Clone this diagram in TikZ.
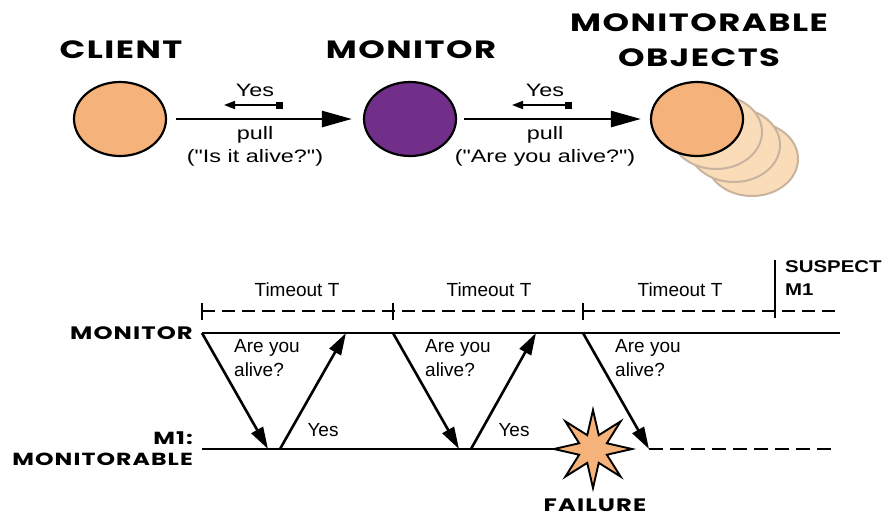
\documentclass[tikz,border=0pt]{standalone}
\usepackage{fontspec}
\setmainfont{Liberation Sans}
\newfontfamily\widesans{Liberation Sans}[FakeStretch=1.3]
\newfontfamily\boldwide{Liberation Sans}[FakeStretch=1.2]
\newfontfamily\headfont{Poppins}[FakeStretch=1.35, LetterSpace=6]
\usetikzlibrary{shapes.geometric,arrows.meta}

\definecolor{peach}{HTML}{F5B27A}
\definecolor{palepeach}{HTML}{FADCB9}
\definecolor{paleedge}{HTML}{C8B49E}
\definecolor{grape}{HTML}{712F89}

\begin{document}
\begin{tikzpicture}[x=1pt,y=-1pt,
  heading/.style={font=\headfont\bfseries\fontsize{25}{35}\selectfont, align=center, inner sep=0pt},
  lanelabel/.style={font=\headfont\bfseries\fontsize{18}{21}\selectfont, align=right, inner sep=0pt, anchor=east},
  party/.style={ellipse, draw, line width=2.2pt, minimum width=92pt, minimum height=74pt, inner sep=0pt},
  ghost/.style={party, fill=palepeach, draw=paleedge, line width=2pt},
  toptext/.style={font=\widesans\fontsize{18}{23}\selectfont, align=center, inner sep=0pt},
  msgtext/.style={font=\fontsize{19}{24}\selectfont, align=left, inner sep=0pt},
  bigarrow/.style={line width=2.6pt, -{Triangle[length=30pt,width=16pt]}},
  replyarrow/.style={line width=1.9pt, {Square[length=7pt,width=7pt]}-{Triangle[length=11pt,width=8pt]}},
  msgarrow/.style={line width=2.6pt, -{Triangle[length=22pt,width=13pt]}},
  lifeline/.style={line width=2.8pt},
  deadline/.style={line width=2.8pt, dash pattern=on 13pt off 7pt},
  tick/.style={line width=2.6pt}
]
\useasboundingbox (0,0) rectangle (890,520);

% ---------- pull model: client, monitor, monitorable objects ----------
\node[heading] (hclient) at (121,50) {CLIENT};
\node[heading] (hmonitor) at (411,50) {MONITOR};
\node[heading] (hobjects) at (699,40) {MONITORABLE\\OBJECTS};

\node[party, fill=peach] (client) at (120,119) {};
\node[party, fill=grape] (monitor) at (410,119) {};

\node[ghost] (obj3) at (752,159) {};
\node[ghost] (obj2) at (734,145) {};
\node[ghost] (obj1) at (716,132) {};
\node[party, fill=peach] (obj) at (697,119) {};

\draw[bigarrow, shorten <=9pt, shorten >=11pt] (client.east) -- (monitor.west);
\draw[bigarrow, shorten <=7pt, shorten >=9pt] (monitor.east) -- (obj.west);

\node[toptext] (yes1) at (255,90) {Yes};
\coordinate (r1a) at (283,105);
\coordinate (r1b) at (224,105);
\draw[replyarrow] (r1a) -- (r1b);
\node[toptext] (pull1) at (255,146) {pull\\("Is it alive?")};

\node[toptext] (yes2) at (545,90) {Yes};
\coordinate (r2a) at (572,105);
\coordinate (r2b) at (512,105);
\draw[replyarrow] (r2a) -- (r2b);
\node[toptext] (pull2) at (545,146) {pull\\("Are you alive?")};

% ---------- time line ----------
\coordinate (t0) at (202,311);
\coordinate (t1) at (393,311);
\coordinate (t2) at (583,311);
\coordinate (tend) at (840,311);
\draw[deadline] (t0) -- (tend);
\foreach \t in {t0,t1,t2}
  \draw[tick] ([yshift=-9pt]\t) -- ([yshift=8pt]\t);

\node[msgtext] (to1) at (297,290) {Timeout T};
\node[msgtext] (to2) at (489,290) {Timeout T};
\node[msgtext] (to3) at (680,290) {Timeout T};

\coordinate (sus) at (775,260);
\coordinate (susb) at (775,318);
\draw[line width=2.8pt] (sus) -- (susb);
\node[font=\boldwide\bfseries\fontsize{17}{23}\selectfont, align=left, inner sep=0pt, anchor=north west] (suspect) at (785,260) {SUSPECT\\M1};

% lifelines
\coordinate (m0) at (202,333);
\coordinate (m9) at (840,333);
\draw[lifeline] (m0) -- (m9);
\node[lanelabel] (lmon) at (193,333) {MONITOR};

\coordinate (o0) at (202,449);
\coordinate (o9) at (570,449);
\coordinate (d0) at (649,449);
\coordinate (d9) at (836,449);
\draw[lifeline] (o0) -- (o9);
\draw[deadline, dash pattern=on 14pt off 7pt] (d0) -- (d9);
\node[lanelabel, font=\headfont\bfseries\fontsize{17.5}{21}\selectfont] (lobj) at (193,449) {M1:\\MONITORABLE};

% probes and replies
\coordinate (p1s) at (202,333); \coordinate (p1e) at (268,449);
\coordinate (a1s) at (280,449); \coordinate (a1e) at (346,333);
\coordinate (p2s) at (393,333); \coordinate (p2e) at (459,449);
\coordinate (a2s) at (471,449); \coordinate (a2e) at (536,333);
\coordinate (p3s) at (583,333); \coordinate (p3e) at (649,449);

\draw[msgarrow] (p1s) -- (p1e);
\draw[msgarrow] (a1s) -- (a1e);
\draw[msgarrow] (p2s) -- (p2e);
\draw[msgarrow] (a2s) -- (a2e);
\draw[msgarrow] (p3s) -- (p3e);

\node[msgtext, anchor=north west] (q1) at (234,339) {Are you\\alive?};
\node[msgtext, anchor=north west] (q2) at (425,339) {Are you\\alive?};
\node[msgtext, anchor=north west] (q3) at (615,339) {Are you\\alive?};
\node[msgtext] (y1) at (323,430) {Yes};
\node[msgtext] (y2) at (514,430) {Yes};

% crash of M1
\node[star, star points=8, star point ratio=2.6, minimum size=78pt, inner sep=0pt,
      fill=peach, draw=black, line width=1.9pt] (crash) at (593,449) {};
\node[heading, font=\headfont\bfseries\fontsize{18}{21}\selectfont] (failure) at (595,505) {FAILURE};
\end{tikzpicture}
\end{document}
